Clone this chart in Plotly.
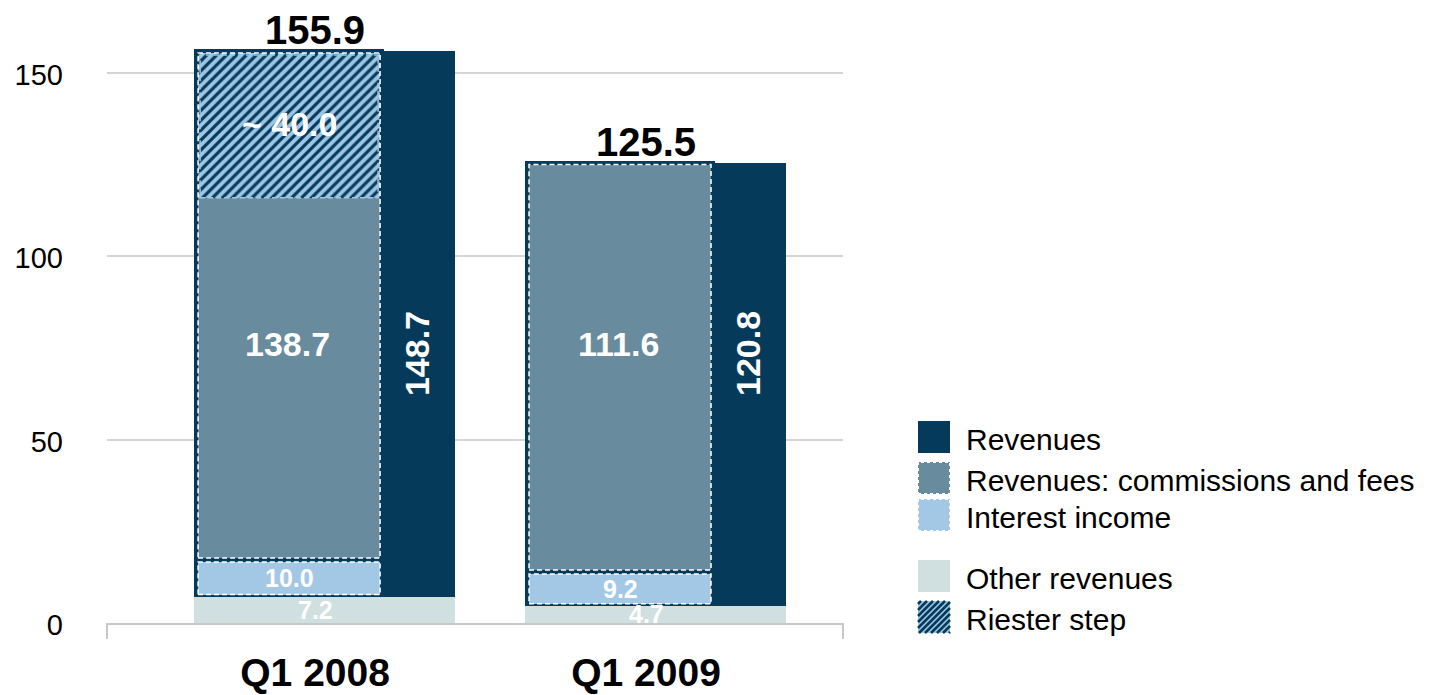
import plotly.graph_objects as go

# ---------------- data ----------------
quarters = ["Q1 2008", "Q1 2009"]
totals = [155.9, 125.5]
revenues = [148.7, 120.8]
commissions = [138.7, 111.6]
interest = [10.0, 9.2]
other = [7.2, 4.7]
riester = [40.0, None]          # Riester step only in Q1 2008
riester_labels = ["~ 40.0", ""]
y_ticks = [0, 50, 100, 150]
legend_names = ["Revenues", "Revenues: commissions and fees", "Interest income",
                "Other revenues", "Riester step"]

# ---------------- style ----------------
NAVY = "#053A5B"
SLATE = "#698B9E"
LBLUE = "#A3C8E6"
OTHER = "#D0DFDF"
HATCH_BG = "#9EC5E4"
GRID = "#D4D4D4"
AXIS = "#C8C8C8"
FONT = "Liberation Sans, Arial, sans-serif"

OFF = 8                     # page body margin of the html page
W, H = 1450, 695
PLOT_L, PLOT_T, PLOT_R, PLOT_B = 107, 36, 843, 623   # target on-screen plot area
ML, MT = PLOT_L - OFF, PLOT_T - OFF
PW, PH = PLOT_R - PLOT_L, PLOT_B - PLOT_T
MR, MB = W - ML - PW, H - MT - PH
X_RANGE = [-0.659, 1.565]
Y_RANGE = [0, 160]
PXX = (X_RANGE[1] - X_RANGE[0]) / PW      # data units per pixel (x)
PXY = (Y_RANGE[1] - Y_RANGE[0]) / PH      # data units per pixel (y)

FULL_OFF, FULL_W = -131 * PXX, 261 * PXX   # full-width bars
BOX_OFF, BOX_W = -129 * PXX, 186 * PXX     # inner boxes (with navy outline)
FILL_OFF, FILL_W = BOX_OFF + 2 * PXX, BOX_W - 4 * PXX
INSET_Y = 2 * PXY
ROT_X = 0.28
LABEL_Y_INNER = 76
LABEL_Y_ROT = 73.5
CAT_SHIFT = -10             # category labels sit slightly left of bar centre

pos = list(range(len(quarters)))
base_comm = [o + i for o, i in zip(other, interest)]
top_comm = [b + c for b, c in zip(base_comm, commissions)]

fig = go.Figure()

fig.add_trace(go.Bar(x=pos, y=revenues, base=other, width=FULL_W, offset=FULL_OFF,
                     marker=dict(color=NAVY, line=dict(width=0)), name=legend_names[0],
                     showlegend=False, hoverinfo="skip"))
fig.add_trace(go.Bar(x=pos, y=interest, base=other, width=BOX_W, offset=BOX_OFF,
                     marker=dict(color=LBLUE, line=dict(color=NAVY, width=4)), name=legend_names[2],
                     showlegend=False, hoverinfo="skip"))
fig.add_trace(go.Bar(x=pos, y=commissions, base=base_comm, width=BOX_W, offset=BOX_OFF,
                     marker=dict(color=SLATE, line=dict(color=NAVY, width=4)), name=legend_names[1],
                     showlegend=False, hoverinfo="skip"))

r_x = [p for p, r in zip(pos, riester) if r is not None]
r_val = [r - INSET_Y for r in riester if r is not None]
r_base = [t - r for t, r in zip(totals, riester) if r is not None]
fig.add_trace(go.Bar(x=r_x, y=r_val, base=r_base, width=FILL_W, offset=FILL_OFF,
                     marker=dict(color=HATCH_BG, line=dict(width=0),
                                 pattern=dict(shape="/", fgcolor=NAVY, bgcolor=HATCH_BG,
                                              size=7, solidity=0.45, fgopacity=1)),
                     name=legend_names[4], showlegend=False, hoverinfo="skip"))
fig.add_trace(go.Bar(x=pos, y=other, base=[0] * len(pos), width=FULL_W, offset=FULL_OFF,
                     marker=dict(color=OTHER, line=dict(width=0)), name=legend_names[3],
                     showlegend=False, hoverinfo="skip"))

shapes = []
dash = "5px,3px"
for p, o, bc, tc in zip(pos, other, base_comm, top_comm):
    x0, x1 = p + FILL_OFF, p + FILL_OFF + FILL_W
    shapes.append(dict(type="rect", xref="x", yref="y", x0=x0, x1=x1,
                       y0=o + INSET_Y, y1=bc - INSET_Y,
                       line=dict(color="white", width=1.5, dash=dash)))
    shapes.append(dict(type="rect", xref="x", yref="y", x0=x0, x1=x1,
                       y0=bc + INSET_Y, y1=tc - INSET_Y,
                       line=dict(color="white", width=1.5, dash=dash)))
for p, b, v in zip(r_x, r_base, r_val):
    shapes.insert(0, dict(type="rect", xref="x", yref="y",
                          x0=p + FILL_OFF + 2 * PXX, x1=p + FILL_OFF + FILL_W - 2 * PXX,
                          y0=b, y1=b + v - 2 * PXY,
                          line=dict(color=LBLUE, width=1.5, dash=dash)))

# axis end ticks
for xp in (0, 1):
    shapes.append(dict(type="line", xref="paper", yref="paper", x0=xp, x1=xp,
                       y0=0, y1=-16 / PH, line=dict(color=AXIS, width=2)))


def pp(px, py):
    """on-screen pixel -> paper coords"""
    return (px - PLOT_L) / PW, (PLOT_B - py) / PH


# manual legend
SW = 32
legend_rows = [  # (top pixel, fill, border)
    (421, NAVY, None),
    (462, SLATE, "white"),
    (499, LBLUE, "white"),
    (560, OTHER, None),
    (601, HATCH_BG, None),
]
LX = 918
annotations = []
for name, (ty, fill, border) in zip(legend_names, legend_rows):
    x0, y0 = pp(LX, ty + SW)
    x1, y1 = pp(LX + SW, ty)
    shapes.append(dict(type="rect", xref="paper", yref="paper", x0=x0, x1=x1, y0=y0, y1=y1,
                       fillcolor=fill,
                       line=dict(color=border if border else fill, width=2 if border else 0,
                                 dash="dot" if border else "solid")))
    tx, tyc = pp(964, ty + SW / 2 + 2)
    annotations.append(dict(xref="paper", yref="paper", x=tx, y=tyc, text=name,
                            showarrow=False, xanchor="left", yanchor="middle",
                            font=dict(family=FONT, size=30, color="black")))

# hatch lines for the Riester legend swatch ("/" direction)
hy = legend_rows[4][0]
path = ""
step = 6
c = step / 2
while c < 2 * SW:
    xa, xb = max(0, c - SW), min(SW, c)
    ax, ay = pp(LX + xa, hy + (c - xa))
    bx, by = pp(LX + xb, hy + (c - xb))
    path += f"M{ax:.5f},{ay:.5f}L{bx:.5f},{by:.5f}"
    c += step
shapes.append(dict(type="path", xref="paper", yref="paper", path=path,
                   line=dict(color=NAVY, width=2.5)))

# value labels
for p, t in zip(pos, totals):
    annotations.append(dict(x=p, y=t, text=f"<b>{t:.1f}</b>", showarrow=False,
                            yanchor="bottom", yshift=-3, xshift=CAT_SHIFT,
                            font=dict(family=FONT, size=40, color="black")))
for p, c_ in zip(pos, commissions):
    annotations.append(dict(x=p + FILL_OFF + FILL_W / 2, y=LABEL_Y_INNER, text=f"<b>{c_:.1f}</b>",
                            showarrow=False, xshift=-2,
                            font=dict(family=FONT, size=34, color="white")))
for p, r in zip(pos, revenues):
    annotations.append(dict(x=p + ROT_X, y=LABEL_Y_ROT, text=f"<b>{r:.1f}</b>", textangle=-90,
                            showarrow=False, font=dict(family=FONT, size=34, color="white")))
for p, o, i in zip(pos, other, interest):
    annotations.append(dict(x=p + FILL_OFF + FILL_W / 2, y=o + i / 2, text=f"<b>{i:.1f}</b>",
                            showarrow=False, font=dict(family=FONT, size=25, color="white")))
    annotations.append(dict(x=p, y=o / 2, text=f"<b>{o:.1f}</b>", xshift=CAT_SHIFT,
                            showarrow=False, font=dict(family=FONT, size=25, color="white")))
for p, t, r, lab in zip(pos, totals, riester, riester_labels):
    if r is not None:
        annotations.append(dict(x=p + FILL_OFF + FILL_W / 2, y=t - r / 2, text=f"<b>{lab}</b>",
                                showarrow=False, font=dict(family=FONT, size=34, color="white")))

fig.update_layout(
    width=W, height=H, autosize=False,
    margin=dict(l=ML, r=MR, t=MT, b=MB, pad=0, autoexpand=False),
    barmode="overlay", bargap=0,
    plot_bgcolor="white", paper_bgcolor="white",
    showlegend=False,
    shapes=shapes, annotations=annotations,
    font=dict(family=FONT, color="black"),
    xaxis=dict(range=X_RANGE, tickmode="array", tickvals=pos,
               ticktext=[f"<b>{q}</b>" for q in quarters],
               tickfont=dict(family=FONT, size=39, color="black"),
               showgrid=False, zeroline=False, showline=True, linecolor=AXIS, linewidth=2,
               ticks="", ticklabelstandoff=14, ticklabelshift=CAT_SHIFT,
               fixedrange=True, automargin=False),
    yaxis=dict(range=Y_RANGE, tickmode="array", tickvals=y_ticks,
               tickfont=dict(family=FONT, size=29, color="black"),
               showgrid=True, gridcolor=GRID, gridwidth=1.5, zeroline=False, showline=False,
               ticks="", ticklabelstandoff=43, ticklabelshift=2,
               fixedrange=True, automargin=False),
)

fig.write_html("out.html")
